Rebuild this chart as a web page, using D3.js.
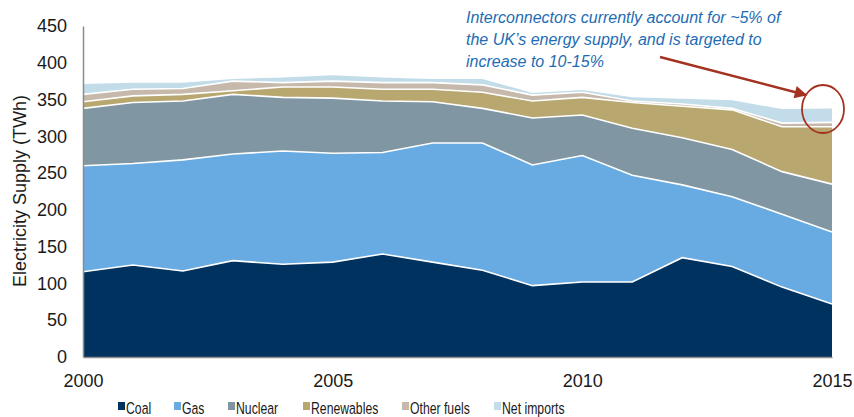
<!DOCTYPE html>
<meta charset="utf-8">
<script src="https://d3js.org/d3.v7.min.js"></script>
<style>
  body { margin: 0; background: #fff; }
  text { font-family: "Liberation Sans", Arial, sans-serif; }
</style>
<div id="chart"></div>
<script>
  // UK electricity supply by source, TWh
  const years      = [2000, 2001, 2002, 2003, 2004, 2005, 2006, 2007, 2008, 2009, 2010, 2011, 2012, 2013, 2014, 2015];
  const coal       = [116, 125, 117, 131, 126, 129, 140, 129, 118,  97, 102, 102, 135, 123,  95,  72];
  const gas        = [144, 138, 151, 145, 154, 148, 138, 162, 173, 164, 172, 145,  99,  95,  99,  98];
  const nuclear    = [ 78,  83,  80,  81,  73,  75,  70,  56,  47,  64,  55,  64,  64,  64,  58,  65];
  const renewables = [  9,   9,   9,   5,  14,  15,  16,  17,  22,  23,  24,  35,  43,  54,  61,  78];
  const otherFuels = [ 10,   9,   8,  13,   6,   8,   9,   9,  10,   8,   7,   2,   3,   2,   5,   6];
  const netImports = [ 14,   9,   8,   3,   7,   8,   7,   5,   8,   3,   3,   5,   7,  11,  19,  19];

  const seriesNames = ["Coal", "Gas", "Nuclear", "Renewables", "Other fuels", "Net imports"];
  const seriesData  = [coal, gas, nuclear, renewables, otherFuels, netImports];
  const colors      = ["#00325f", "#67abe2", "#8096a2", "#b8a76f", "#c6b8aa", "#c2dde9"];
  const yTicks  = [0, 50, 100, 150, 200, 250, 300, 350, 400, 450];
  const xTicks  = [2000, 2005, 2010, 2015];
  const note = ["Interconnectors currently account for ~5% of",
                "the UK\u2019s energy supply, and is targeted to",
                "increase to 10-15%"];

  const width = 854, height = 417;
  const svg = d3.select("#chart").append("svg")
    .attr("width", width)
    .attr("height", height);

  const x = d3.scaleLinear().domain([2000, 2015]).range([83, 832]);
  const y = d3.scaleLinear().domain([0, 450]).range([357, 26]);

  // build table for the stack
  const table = years.map((yr, i) => {
    const row = { year: yr };
    seriesNames.forEach((n, k) => row[n] = seriesData[k][i]);
    return row;
  });
  const stacked = d3.stack().keys(seriesNames)(table);

  const area = d3.area()
    .x(d => x(d.data.year))
    .y0(d => y(d[0]))
    .y1(d => y(d[1]));
  const topLine = d3.line()
    .x(d => x(d.data.year))
    .y(d => y(d[1]));

  svg.append("g")
    .selectAll("path")
    .data(stacked)
    .enter()
    .append("path")
    .attr("d", area)
    .attr("fill", (d, i) => colors[i]);

  // white separators between layers
  svg.append("g")
    .selectAll("path")
    .data(stacked.slice(0, 5))
    .enter()
    .append("path")
    .attr("d", topLine)
    .attr("fill", "none")
    .attr("stroke", "#fff")
    .attr("stroke-width", 1.6);

  // axes
  const yAxis = svg.append("g")
    .attr("transform", "translate(83,0)")
    .call(d3.axisLeft(y).tickValues(yTicks).tickSize(0).tickPadding(16));
  yAxis.select(".domain").attr("stroke", "#8c8c8c").attr("stroke-width", 1.5);
  yAxis.selectAll("text").attr("font-size", 18).attr("fill", "#1a1a1a")
    .attr("font-family", "Liberation Sans, Arial, sans-serif");

  const xAxis = svg.append("g")
    .attr("transform", "translate(0,357)")
    .call(d3.axisBottom(x).tickValues(xTicks).tickFormat(d3.format("d")).tickSize(0).tickPadding(17));
  xAxis.select(".domain").attr("stroke", "#8c8c8c").attr("stroke-width", 1.5);
  xAxis.selectAll("text").attr("font-size", 18).attr("fill", "#1a1a1a")
    .attr("font-family", "Liberation Sans, Arial, sans-serif");

  svg.append("text")
    .attr("transform", "translate(26,191) rotate(-90)")
    .attr("text-anchor", "middle")
    .attr("font-size", 18)
    .attr("fill", "#1a1a1a")
    .text("Electricity Supply (TWh)");

  // legend
  const legendX = [118, 174, 228, 303, 402, 494];
  const legend = svg.append("g");
  seriesNames.forEach((n, i) => {
    legend.append("rect")
      .attr("x", legendX[i]).attr("y", 402)
      .attr("width", 7).attr("height", 8)
      .attr("fill", colors[i]);
    legend.append("text")
      .attr("transform", `translate(${legendX[i] + 8},414) scale(0.72,1)`)
      .attr("font-size", 17)
      .attr("fill", "#1a1a1a")
      .text(n);
  });

  // annotation
  svg.append("g").selectAll("text")
    .data(note)
    .enter()
    .append("text")
    .attr("x", 466)
    .attr("y", (d, i) => 23 + i * 22)
    .attr("font-size", 16)
    .attr("font-style", "italic")
    .attr("fill", "#1e6cb4")
    .text(d => d);

  svg.append("defs").append("marker")
    .attr("id", "head")
    .attr("viewBox", "0 0 10 10")
    .attr("refX", 9).attr("refY", 5)
    .attr("markerWidth", 6).attr("markerHeight", 5)
    .attr("markerUnits", "strokeWidth")
    .attr("orient", "auto")
    .append("path")
    .attr("d", "M0,0 L10,5 L0,10 z")
    .attr("fill", "#a33220");

  svg.append("line")
    .attr("x1", 660).attr("y1", 57)
    .attr("x2", 806).attr("y2", 95)
    .attr("stroke", "#a33220")
    .attr("stroke-width", 2.5)
    .attr("marker-end", "url(#head)");

  svg.append("ellipse")
    .attr("cx", 823).attr("cy", 109)
    .attr("rx", 21).attr("ry", 24)
    .attr("fill", "none")
    .attr("stroke", "#a33220")
    .attr("stroke-width", 1.8);
</script>
